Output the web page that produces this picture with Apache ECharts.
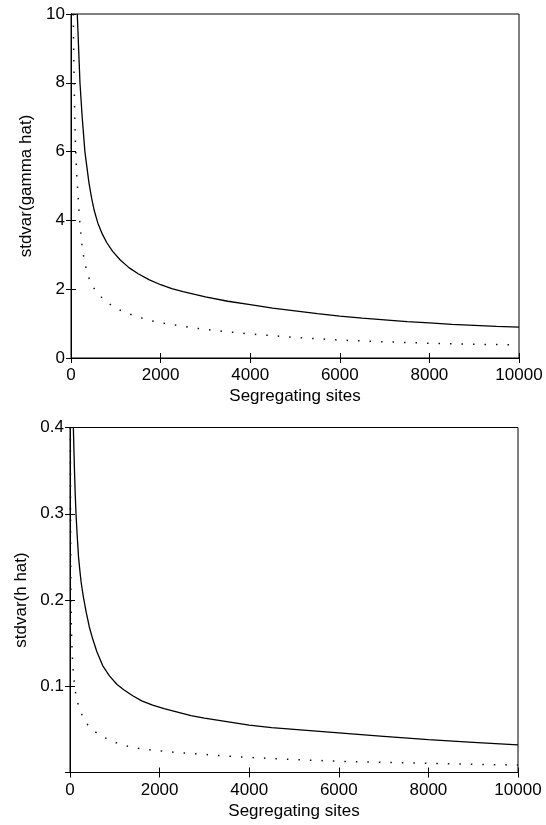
<!DOCTYPE html>
<html><head><meta charset="utf-8">
<script src="https://cdn.jsdelivr.net/npm/echarts@6/dist/echarts.min.js"></script>
<style>html,body{margin:0;padding:0;background:#fff}#c{width:546px;height:825px}</style>
</head><body><div id="c"></div>
<script>
// Top panel: stdvar(gamma hat) vs segregating sites
const topSolidX = [140,155,170,185,200,225,250,280,310,350,400,460,520,600,700,800,930,1100,1300,1500,1750,2000,2250,2500,3000,3500,4000,4500,5000,5500,6000,6500,7000,7500,8000,8500,9000,9500,10000];
const topSolidY = [10,9.5,9.0,8.5,8.0,7.5,7.0,6.5,6.0,5.6,5.1,4.65,4.28,3.92,3.6,3.35,3.1,2.85,2.62,2.45,2.27,2.13,2.02,1.93,1.78,1.65,1.55,1.45,1.37,1.29,1.22,1.16,1.11,1.06,1.02,0.98,0.95,0.92,0.9];
const topDotX = [50,57,65,75,85,98,112,130,150,170,190,220,260,320,380,446,550,670,820,1000,1200,1450,1800,2200,2600,3000,3500,4000,4500,5000,5500,6000,7000,8000,9000,10000];
const topDotY = [10,9.2,8.5,7.7,7.0,6.3,5.76,5.3,4.9,4.45,4.05,3.6,3.1,2.7,2.4,2.17,1.95,1.78,1.6,1.45,1.33,1.21,1.08,0.98,0.9,0.83,0.76,0.7,0.65,0.6,0.56,0.52,0.47,0.43,0.4,0.38];
// Bottom panel: stdvar(h hat) vs segregating sites
const botSolidX = [75,87,100,115,134,160,190,220,250,300,357,430,506,600,729,880,1050,1200,1400,1600,1845,2100,2400,2700,3000,3500,4000,4500,5000,5500,6000,7000,8000,9000,10000];
const botSolidY = [0.4,0.375,0.35,0.325,0.3,0.275,0.25,0.234,0.22,0.203,0.187,0.169,0.155,0.14,0.124,0.112,0.102,0.096,0.089,0.083,0.078,0.074,0.07,0.066,0.063,0.059,0.055,0.052,0.05,0.048,0.046,0.042,0.038,0.035,0.032];
const botDotX = [8,10,12,15,18,24,30,38,48,62,80,110,140,170,230,300,400,540,700,880,1050,1250,1450,1620,2030,2430,3000,3500,4000,5000,6000,7000,8000,9000,10000];
const botDotY = [0.4,0.35,0.3,0.26,0.22,0.195,0.17,0.155,0.14,0.125,0.112,0.097,0.088,0.081,0.071,0.063,0.055,0.048,0.042,0.038,0.034,0.031,0.029,0.027,0.025,0.023,0.021,0.019,0.0175,0.015,0.013,0.0118,0.0106,0.0095,0.0086];
const xTicks = [0,2000,4000,6000,8000,10000];
const topYTicks = [0,2,4,6,8,10];
const botYTicks = [0.1,0.2,0.3,0.4];
const xName = 'Segregating sites';
const topYName = 'stdvar(gamma hat)';
const botYName = 'stdvar(h hat)';

const zip = (a,b) => a.map((v,i)=>[v,b[i]]);
const FONT = 'Liberation Sans';
const lab = {color:'#000', fontFamily:FONT, fontSize:17};
const line = {show:true, lineStyle:{color:'#000', width:1}};
const tick = {show:true, inside:true, length:5, lineStyle:{color:'#000', width:1}};

function xAx(grid, pos, labels){
  return {type:'value', gridIndex:grid, position:pos, min:xTicks[0], max:xTicks[xTicks.length-1], interval:xTicks[1]-xTicks[0],
    axisLine:line, axisTick:tick, splitLine:{show:false},
    axisLabel: labels ? Object.assign({margin:9, formatter:v=>String(v)}, lab) : {show:false},
    name: labels ? xName : '', nameLocation:'middle', nameGap:30, nameTextStyle:lab};
}
function yAx(grid, pos, min, max, iv, labels, name, gap, fmt){
  return {type:'value', gridIndex:grid, position:pos, min:min, max:max, interval:iv,
    axisLine:line, axisTick:tick, splitLine:{show:false},
    axisLabel: labels ? Object.assign({margin:6, formatter:fmt}, lab) : {show:false},
    name: labels ? name : '', nameLocation:'middle', nameGap:gap, nameTextStyle:lab};
}
const solid = {color:'#000', width:1.3, type:'solid'};
const dotted = {color:'#111', width:1.5, type:[1.5,10]};
function ser(x,y,xi,yi,ls){
  return {type:'line', xAxisIndex:xi, yAxisIndex:yi, data:zip(x,y), showSymbol:false, symbol:'none',
    smooth:false, lineStyle:ls, silent:true, animation:false, clip:true};
}
const chart = echarts.init(document.getElementById('c'), null, {renderer:'canvas'});
chart.setOption({
  animation:false,
  backgroundColor:'#fff',
  grid:[
    {left:71, right:27, top:14, height:344, show:true, borderColor:'#000', borderWidth:1},
    {left:70, right:28, top:427.5, height:345, show:true, borderColor:'#000', borderWidth:1}
  ],
  xAxis:[ xAx(0,'bottom',true), xAx(0,'top',false), xAx(1,'bottom',true), xAx(1,'top',false) ],
  yAxis:[
    yAx(0,'left',topYTicks[0],topYTicks[topYTicks.length-1],topYTicks[1]-topYTicks[0],true,topYName,35,v=>String(v)),
    yAx(0,'right',topYTicks[0],topYTicks[topYTicks.length-1],topYTicks[1]-topYTicks[0],false,'',0,null),
    yAx(1,'left',0,botYTicks[botYTicks.length-1],0.1,true,botYName,39,v=>(Math.abs(v)<1e-9?'':v.toFixed(1))),
    yAx(1,'right',0,botYTicks[botYTicks.length-1],0.1,false,'',0,null)
  ],
  series:[
    ser(topSolidX,topSolidY,0,0,solid),
    ser(topDotX,topDotY,0,0,dotted),
    ser(botSolidX,botSolidY,2,2,solid),
    ser(botDotX,botDotY,2,2,dotted)
  ]
});
</script></body></html>
